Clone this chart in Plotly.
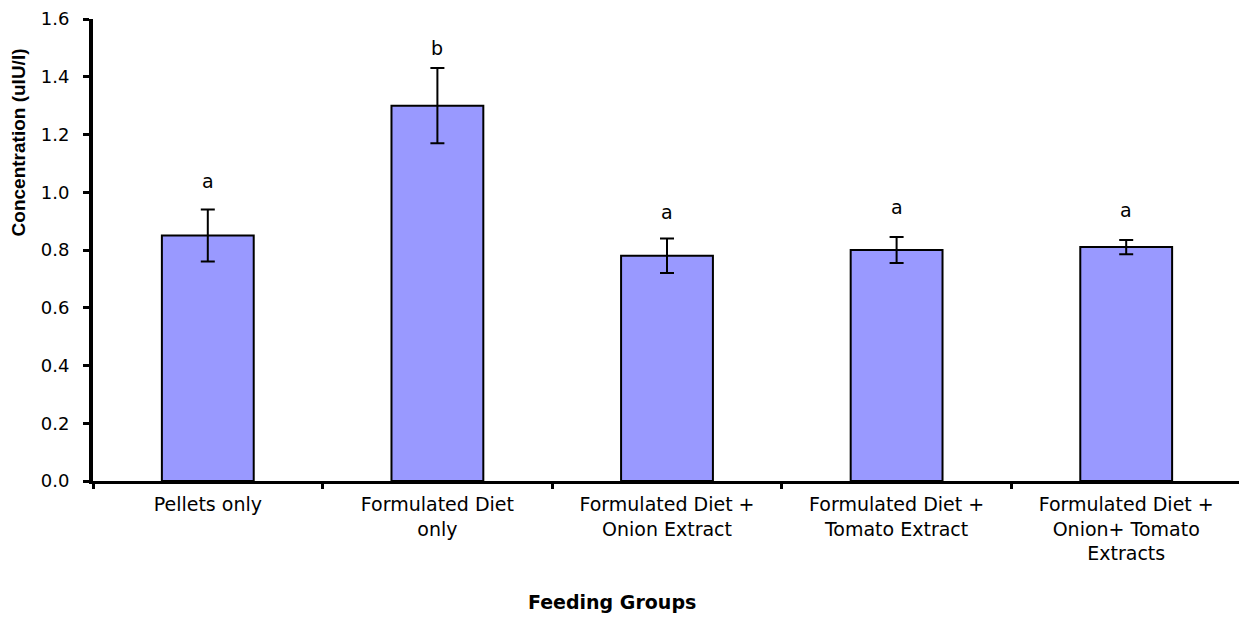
import plotly.graph_objects as go

categories = ["Pellets only", "Formulated Diet<br>only", "Formulated Diet +<br>Onion Extract",
              "Formulated Diet +<br>Tomato Extract", "Formulated Diet +<br>Onion+ Tomato<br>Extracts"]
means = [0.85, 1.30, 0.78, 0.80, 0.81]
errors = [0.09, 0.13, 0.06, 0.045, 0.025]
letters = ["a", "b", "a", "a", "a"]
letter_y = [1.04, 1.50, 0.93, 0.95, 0.94]
y_ticks = [0.0, 0.2, 0.4, 0.6, 0.8, 1.0, 1.2, 1.4, 1.6]

FONT = "DejaVu Sans, Liberation Sans, Arial, sans-serif"

fig = go.Figure()
fig.add_trace(go.Bar(
    x=categories, y=means,
    marker=dict(color="#9999FF", line=dict(color="black", width=2)),
    width=0.4,
    error_y=dict(type="data", array=errors, visible=True, color="black", thickness=2, width=7),
    showlegend=False,
))
for c, l, ly in zip(categories, letters, letter_y):
    fig.add_annotation(x=c, y=ly, text=l, showarrow=False,
                       font=dict(family=FONT, size=19, color="black"))

# axis titles placed as annotations (reference titles are off-centre)
fig.add_annotation(xref="paper", yref="paper", x=-0.0653, y=0.733, text="<b>Concentration (uIU/l)</b>",
                   textangle=-90, showarrow=False, xanchor="center", yanchor="middle",
                   font=dict(family="Liberation Sans Narrow, Liberation Sans, Arial", size=19, color="black"))
fig.add_annotation(xref="paper", yref="paper", x=0.452, y=-0.262, text="<b>Feeding Groups</b>",
                   showarrow=False, xanchor="center", yanchor="middle",
                   font=dict(family=FONT, size=19, color="black"))

# the page body has an 8px margin, so the figure is sized/offset to compensate
fig.update_layout(
    width=1239, height=611,
    margin=dict(l=85, r=6, t=11, b=138),
    plot_bgcolor="white", paper_bgcolor="white",
    font=dict(family=FONT, color="black"),
    bargap=0.6,
)
fig.update_yaxes(
    range=[0, 1.6], tickvals=y_ticks, ticktext=[f"{v:.1f}" for v in y_ticks],
    showline=True, linecolor="black", linewidth=4, ticks="outside", ticklen=6, tickwidth=3,
    tickcolor="black", showgrid=False, zeroline=False, automargin=False,
    ticklabelstandoff=10, ticklabeloverflow="allow",
    tickfont=dict(family=FONT, size=18, color="black"),
)
fig.update_xaxes(
    showline=True, linecolor="black", linewidth=3, ticks="outside", tickson="boundaries",
    ticklen=5, tickwidth=3, tickcolor="black", showgrid=False, automargin=False,
    ticklabelstandoff=4, ticklabeloverflow="allow",
    tickfont=dict(family=FONT, size=19, color="black"),
)
fig.write_html("out.html")
